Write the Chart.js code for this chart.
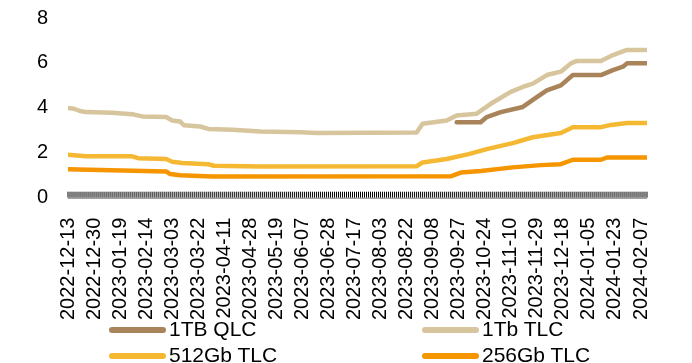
<!DOCTYPE html>
<html>
<head>
<meta charset="utf-8">
<script src="https://cdn.jsdelivr.net/npm/chart.js@4/dist/chart.umd.min.js"></script>
<style>
  html, body { margin: 0; padding: 0; background: #fff; }
  #wrap { position: relative; width: 692px; height: 363px; overflow: hidden; }
  #chart { position: absolute; left: 0; top: -14px; }
  #legend { position: absolute; left: 0; top: 316px; width: 692px; height: 47px;
            font-family: "Liberation Sans", Arial, sans-serif; font-size: 21px; color: #000; }
  .item { position: absolute; height: 26px; line-height: 26px; white-space: nowrap; }
  .item span.sw { position: absolute; left: 0; top: 11px; width: 57px; height: 6px; border-radius: 3px; }
  .item span.tx { position: absolute; left: 60px; top: 0; }
</style>
</head>
<body>
<div id="wrap">
  <canvas id="chart" width="692" height="382"></canvas>
  <div id="legend"></div>
</div>
<script>
// x positions are trading-day indices; a date label sits on every 13th one
var tickLabels = ["2022-12-13", "2022-12-30", "2023-01-19", "2023-02-14", "2023-03-03", "2023-03-22",
  "2023-04-11", "2023-04-28", "2023-05-19", "2023-06-07", "2023-06-28", "2023-07-17", "2023-08-03",
  "2023-08-22", "2023-09-08", "2023-09-27", "2023-10-24", "2023-11-10", "2023-11-29", "2023-12-18",
  "2024-01-05", "2024-01-23", "2024-02-07"];
var labelEvery = 13;
var lastIndex = 289;

var seriesNames = ["1TB QLC", "1Tb TLC", "512Gb TLC", "256Gb TLC"];
var seriesColors = ["#a9845b", "#d7c59d", "#f5b833", "#f59500"];

// [day index, price]
var qlc1TB = [[194,3.36],[206,3.36],[209,3.59],[216,3.81],[227,4.04],[234,4.48],[239,4.78],[246,5.0],
  [252,5.46],[266,5.46],[272,5.68],[277,5.83],[279,5.98],[289,5.98]];
var tlc1Tb = [[0,3.99],[3,3.96],[6,3.86],[9,3.81],[22,3.78],[32,3.72],[37,3.62],[49,3.59],[52,3.44],
  [56,3.39],[58,3.22],[66,3.17],[70,3.06],[82,3.02],[96,2.95],[116,2.91],[124,2.88],[174,2.9],
  [177,3.29],[189,3.44],[194,3.66],[204,3.74],[211,4.18],[221,4.71],[227,4.93],[232,5.08],[239,5.46],
  [246,5.61],[251,5.98],[254,6.09],[266,6.09],[272,6.35],[279,6.58],[289,6.58]];
var tlc512Gb = [[0,1.91],[9,1.84],[32,1.84],[35,1.76],[49,1.72],[52,1.6],[57,1.54],[70,1.49],[73,1.42],
  [96,1.39],[174,1.4],[177,1.57],[189,1.72],[200,1.94],[209,2.16],[222,2.43],[232,2.69],[246,2.88],
  [252,3.14],[266,3.14],[271,3.24],[279,3.33],[289,3.33]];
var tlc256Gb = [[0,1.27],[16,1.23],[49,1.17],[51,1.05],[56,1.0],[72,0.94],[191,0.95],[196,1.12],
  [206,1.19],[222,1.35],[236,1.45],[246,1.49],[252,1.69],[266,1.69],[269,1.79],[289,1.79]];

var seriesData = [qlc1TB, tlc1Tb, tlc512Gb, tlc256Gb];

function toPoints(pairs) {
  return pairs.map(function (p) { return { x: p[0], y: p[1] }; });
}

var datasets = seriesNames.map(function (name, i) {
  return {
    label: name,
    data: toPoints(seriesData[i]),
    borderColor: seriesColors[i],
    backgroundColor: seriesColors[i],
    borderWidth: 4.5,
    borderCapStyle: 'round',
    borderJoinStyle: 'round',
    pointRadius: 0,
    tension: 0
  };
});

// axis line with short tick marks pointing up into the plot, one per day
var axisTicks = {
  id: 'axisTicks',
  beforeDatasetsDraw: function (chart) {
    var xs = chart.scales.x, ctx = chart.ctx;
    var yb = chart.chartArea.bottom;
    ctx.save();
    ctx.lineWidth = 1;
    ctx.strokeStyle = '#000';
    ctx.beginPath();
    xs.ticks.forEach(function (t) {
      var px = xs.getPixelForValue(t.value);
      ctx.moveTo(px, yb);
      ctx.lineTo(px, yb - 6);
    });
    ctx.stroke();
    ctx.strokeStyle = '#777';
    ctx.beginPath();
    ctx.moveTo(xs.left, yb + 0.5);
    ctx.lineTo(xs.right, yb + 0.5);
    ctx.stroke();
    ctx.restore();
  }
};

Chart.defaults.font.family = '"Liberation Sans", Arial, sans-serif';
Chart.defaults.color = '#000';

new Chart(document.getElementById('chart'), {
  type: 'line',
  data: { datasets: datasets },
  plugins: [axisTicks],
  options: {
    responsive: false,
    animation: false,
    layout: { padding: { left: 0, right: 45, top: -8, bottom: 28 } },
    plugins: { legend: { display: false }, tooltip: { enabled: false } },
    scales: {
      x: {
        type: 'linear',
        min: 0,
        max: lastIndex,
        grid: { display: false, drawTicks: false },
        border: { display: false },
        ticks: {
          stepSize: 1,
          autoSkip: false,
          minRotation: 90,
          maxRotation: 90,
          padding: 20,
          font: { size: 20 },
          callback: function (v) {
            return v % labelEvery === 0 ? (tickLabels[v / labelEvery] || '') : '';
          }
        }
      },
      y: {
        min: 0,
        max: 8,
        grid: { display: false, drawTicks: false },
        border: { display: false },
        ticks: { stepSize: 2, padding: 20, font: { size: 20 } },
        afterFit: function (s) { s.width = 68; }
      }
    }
  }
});

// two-column legend under the axis
var legend = document.getElementById('legend');
var cols = [109, 422];
seriesNames.forEach(function (name, i) {
  var d = document.createElement('div');
  d.className = 'item';
  d.style.left = cols[i % 2] + 'px';
  d.style.top = (Math.floor(i / 2) * 26) + 'px';
  d.innerHTML = '<span class="sw" style="background:' + seriesColors[i] + '"></span><span class="tx">' + name + '</span>';
  legend.appendChild(d);
});
</script>
</body>
</html>
